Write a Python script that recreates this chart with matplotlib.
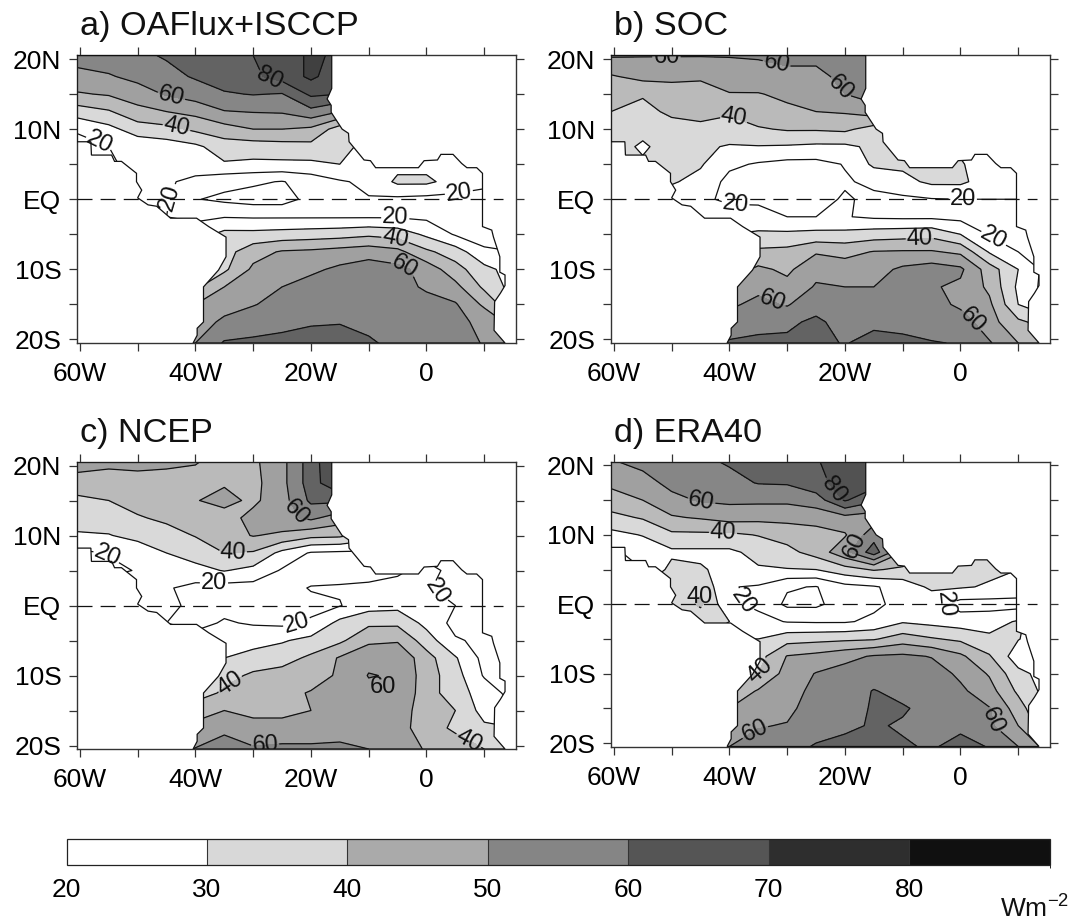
import numpy as np
import matplotlib
matplotlib.use("Agg")
import matplotlib.pyplot as plt
from matplotlib.patches import Polygon
from matplotlib.colors import ListedColormap, BoundaryNorm
from matplotlib.cm import ScalarMappable

plt.rcParams['font.family'] = ['Liberation Sans', 'DejaVu Sans']
plt.rcParams['mathtext.default'] = 'regular'

lons = [-60.5, -55, -50, -45, -40, -35, -30, -25, -20, -15, -10, -5, 0, 5, 10, 15.5]
lats = [20.5, 17.5, 15, 12.5, 10, 7.5, 5, 2.5, 0, -2.5, -5, -7.5, -10, -12.5, -15, -17.5, -20.5]

oaflux = [
 [64,66,68,71,73,76,80,84,92,88,85,85,85,85,85,85],
 [57,59,63,67,71,75,78,84,92,84,84,84,84,84,84,84],
 [49,51,55,61,65,69,70.5,69.5,82,80,80,80,80,80,80,80],
 [35,39,47,50,53,59.5,60.5,61,67,60,55,50,50,50,50,50],
 [21,27,35,37,42,46,50,50,48,35,30,30,30,30,30,30],
 [17,20,23,25,28,35,35,36,37,33,27,25,25,25,25,25],
 [17,19,22,23,24,29,28,28,28,30,27,27,27,24,22,20],
 [22,22,22,21,18,13,11.5,9.5,14,19,22,32,32,26,22,20],
 [22,22,22,21,10.5,8,6,6,13,17,19.5,18,17,17,17,17],
 [20,20,20,20,18,19.5,19,19,19,19,19,19,18,15,14,14],
 [25,25,25,25,25,33,33,34,35,36,38,36,28,19,15,15],
 [30,30,30,30,30,36,46,51,52,54,56,53,42,35,22,20],
 [35,35,35,35,33,38,52,55,58,62,65,63,56,44,33,25],
 [40,40,40,40,38,50,57,60,64,66,67,65,58,53,38,25],
 [45,45,45,45,50,56,59.5,63,65,66,67,66,65,61,48,30],
 [50,50,50,50,55,62,65,67,69,69.5,68,67,66,62,58,45],
 [55,55,55,55,60,71,72,73,74,74,71,68,66,63,59.5,52],
]

soc = [
 [61,60.5,60.5,60.5,60.5,61,62,62,64,70,70,70,70,70,70,70],
 [49,53,52,51,55,56,58,58,62,68,68,68,68,68,68,68],
 [44,41,46,47,49.5,49.5,52,54,60,65,65,65,65,65,65,65],
 [40,37,42,44,41,46,48,50,51,55,50,50,50,50,50,50],
 [31,32,36,37,37,39,41,41,42,36,30,30,30,30,30,30],
 [33,29,33,32,29,29.5,29,28,28,32,30,28,28,28,28,28],
 [31,31,33,31,22,19,17,17,20.5,32,32,32,31,24,22,20],
 [25,25,31,27,17,15,14,14,19,22,27,32,32,25,22,20],
 [25,25,25,22,18,19,17,17,21,18,18,19.5,20,20,20,20],
 [25,25,25,25,25,22,20,20,20.5,18.5,18,18,17,15,13,12],
 [30,30,30,30,30,32,32,33,33,35,36,37,30,19,13,12],
 [40,40,40,40,40,42,43,49,47,50.5,51,51,48,29,20,18],
 [45,45,45,45,45,52,48,57,55,56,62,65,62,45,30,15],
 [50,50,50,50,50,57,53,61,60,60,65,61,58,48,28,15],
 [55,55,55,55,58,63,59,68,66,63,68,64,58,52,30,20],
 [60,60,60,60,65,67,69,71,68,68,66,66,65,54,42,35],
 [65,65,65,65,71,72,71,72,69.5,73,73,70.5,69.5,61,50,42],
]

ncep = [
 [53,52,53,52,50.5,47,48,57,75,92,90,90,90,90,90,90],
 [47,46,46,46,47,49,47,57,75,90,90,90,90,90,90,90],
 [37,40,44,45,49.5,53,48,56,72,72,72,72,72,72,72,72],
 [37,35,39,42,46,46,53,57,62,55,50,50,50,50,50,50],
 [28,29.5,33,36,40.5,46,50.5,48,43,42,35,35,35,35,35,35],
 [18,20.5,24,30,34,40,39,27,19,18,18,18,18,18,18,18],
 [18,18,20.5,24,27,30.5,27,19,16,16,18,19,22,18,18,18],
 [24,24,24,21,17,16,16,17,20.5,21,21,22,20.5,18,18,18],
 [22,22,22,22,18,17,16,17,18,19.5,26,27,21,20,16,16],
 [20,20,20,20,17,21,19,18,21,33,38,38,27,17,15,15],
 [24,24,24,24,24,24,27,29,33,38,48,49,35,21,18,18],
 [30,30,30,30,30,30,33,36,42,51,57,58,44,31,17,17],
 [33,33,33,33,33,36,42,44,47,51,60.5,59,45,34,19,18],
 [35,35,35,35,34,42,47,48,50.5,54,57,58,45,34,26,15],
 [38,38,38,38,47,50,47,47,50,53,56,55,45,40,26,20],
 [48,48,48,48,52,58,54,54,54,56,56,54,45,38,32,30],
 [55,55,55,55,60.5,64,61,62,62,62,60,56,49,46,40,38],
]

era40 = [
 [59,63,66,68,71,76,76,79.5,83,83,83,83,83,83,83,83],
 [52,56,63,65,67,70.5,71,77,84,84,84,84,84,84,84,84],
 [46,50,57,61,62,62,62,65,81,72,72,72,72,72,72,72],
 [37,41,49,51,54,53,53,54,57,55,45,45,45,45,45,45],
 [27,30.5,38,38,38,40.5,44,46,49,66,40,40,40,40,40,40],
 [18,24,28,28,28,33,37,44,57,75,50,40,40,40,40,40],
 [18,20,33,31,27,29,29.5,30,36,41,38,35,33,32,30,28],
 [30,30,35,38,20.5,19,11,9.5,17,19,24,32,31,29,27,25],
 [30,30,32,42,22,18,8,8,15,18,23,23,16,16,16,16],
 [30,30,30,32,30,23,19.5,19,19,22,29,27,25,26,31,25],
 [30,30,30,30,30,30,36,37,38,39,45,41,38,32,30.5,22],
 [35,35,35,35,35,36,50.5,53,57,61,62,59.5,52,41,24,22],
 [40,40,40,40,40,40,54,60.5,64,65,66,65,58,49,33,25],
 [42,42,42,42,42,51,57,62,65,70.5,67,66,62,54,38,25],
 [48,48,48,48,50,55,58,64,66,71,71,67,66,60.5,45,25],
 [52,52,52,52,54,59.5,60.5,65,68,71,69,69,68,62,50,30],
 [55,55,55,55,60,63,66,71,73,74,71,69,73,69.5,60,45],
]

# ocean outline (lon, lat)
coast_lon = [-60.5,-16.4,-16.4,-17.2,-16.5,-16.5,-14.6,-13.5,-13.4,-10.8,-9.7,-8.8,-1.4,-0.4,1.9,2.5,4.6,6.1,7,8.7,9.7,9.7,11.3,11.6,12.7,12.7,13.6,13.6,12.8,11.8,11.7,13.6,-40.4,-39.7,-39.7,-38.6,-38.6,-36,-34.7,-34.7,-37.7,-39.8,-44.3,-46.7,-48.2,-50,-49.3,-50.2,-50.2,-52.8,-54,-54.5,-58,-58.1,-60.5]
coast_lat = [20.5,20.5,15.8,14.3,13.4,12.4,10,9.4,8.2,5.6,5.5,4.5,4.5,5.5,5.6,6.4,6.4,5.1,4.5,4.5,3.7,-3.9,-4.4,-5.4,-8.2,-10.4,-10.8,-12.3,-13.4,-14.6,-18.7,-20.5,-20.5,-19.4,-18.4,-17.5,-12.5,-10.1,-8.2,-5.4,-3.9,-2.7,-2.7,-1,-0.8,0.2,1.3,2.5,3.7,5.4,5.4,6.3,6.3,8.2,8.2]

labels_a = [(-27.2,17.3),(-44.3,14.2),(-43.2,10.5),(-56.6,8.2),(-46.3,0.9),(5.5,1.5),(-5.4,-2.9),(-5.4,-5.8),(-3.8,-9.6)]
labels_b = [(-50.9,20),(-31.9,19.1),(-20.8,15.9),(-39,12.2),(0.4,0),(-39,-1.6),(-7,-6.5),(5.4,-6.1),(-33.1,-15.6),(2.5,-16.8)]
labels_c = [(-55.1,7.5),(-22.6,13.2),(-33.5,7.2),(-36.8,2.6),(-22.3,-3.1),(-0.4,-0.4),(-33.8,-11.5),(-28,-19.3),(7.6,-18.9)]
labels_d = [(-44.9,14.5),(-22.1,16.4),(-41.1,10.6),(-18,8.2),(-46.4,1.8),(-39.6,-0.1),(-2.9,-0.4),(-34.3,-9.7),(-35.5,-18.4),(6,-16.7)]
free_labels = [[], [], [(-7.5, -11.6, '60')], []]

titles = ['a) OAFlux+ISCCP', 'b) SOC', 'c) NCEP', 'd) ERA40']
fields = [oaflux, soc, ncep, era40]
label_pos = [labels_a, labels_b, labels_c, labels_d]

fill_levels = [0, 10, 20, 30, 40, 50, 60, 70, 80, 90, 200]
fill_colors = ['white', 'white', 'white', '#D9D9D9', '#BABABA', '#A0A0A0', '#868686', '#636363', '#525252', '#404040']
plain_levels = [10, 30, 50, 70, 90]
labelled_levels = [20, 40, 60, 80]
cbar_bounds = [20, 30, 40, 50, 60, 70, 80, 90]
cbar_colors = ['white', '#D8D8D8', '#AAAAAA', '#858585', '#555555', '#2E2E2E', '#101010']

xtick_vals = [-60, -50, -40, -30, -20, -10, 0, 10]
xtick_text = ['60W', '', '40W', '', '20W', '', '0', '']
ytick_vals = [20, 15, 10, 5, 0, -5, -10, -15, -20]
ytick_text = ['20N', '', '10N', '', 'EQ', '', '10S', '', '20S']

W, H = 1071, 922
fig = plt.figure(figsize=(W / 100, H / 100), dpi=100)
boxes = [(77, 55.5, 516, 343), (611, 55.5, 1050, 343), (77, 462, 516, 749), (611, 462, 1050, 746.5)]

for box, title, field, lpos, free in zip(boxes, titles, fields, label_pos, free_labels):
    l, t, r, b = box
    ax = fig.add_axes([l / W, 1 - b / H, (r - l) / W, (b - t) / H])
    ax.set_xlim(-60.5, 15.5)
    ax.set_ylim(-20.5, 20.5)
    ocean = Polygon(np.column_stack([coast_lon, coast_lat]), closed=True, transform=ax.transData,
                    facecolor='none', edgecolor='#111111', linewidth=0.9, zorder=3)
    ax.add_patch(ocean)
    Z = np.array(field, dtype=float)
    cf = ax.contourf(lons, lats, Z, levels=fill_levels, colors=fill_colors)
    cf.set_clip_path(ocean)
    cp = ax.contour(lons, lats, Z, levels=[v for v in plain_levels if Z.min() < v < Z.max()],
                    colors='#111111', linewidths=0.9)
    cp.set_clip_path(ocean)
    cs = ax.contour(lons, lats, Z, levels=[v for v in labelled_levels if Z.min() < v < Z.max()],
                    colors='#111111', linewidths=0.9)
    cs.set_clip_path(ocean)
    ax.clabel(cs, manual=lpos, inline=True, inline_spacing=1, fontsize=17, fmt='%d', colors='#111111')
    for x0, y0, s in free:
        ax.text(x0, y0, s, fontsize=17, ha='center', va='center', color='#111111', zorder=5)
    ax.axhline(0, color='#111111', lw=0.9, dashes=(12, 6.5), zorder=4, xmin=0.0, xmax=0.97)
    ax.set_xticks(xtick_vals, xtick_text)
    ax.set_yticks(ytick_vals, ytick_text)
    ax.tick_params(axis='both', direction='out', length=5.8, width=0.9, color='#333333',
                   top=True, right=True, labelsize=19)
    ax.tick_params(axis='x', pad=8)
    ax.tick_params(axis='y', pad=5.5)
    for s in ax.spines.values():
        s.set_linewidth(1.0)
        s.set_color('#333333')
    fig.text((l + 3) / W, 1 - (t - 20) / H, title, fontsize=24.7, ha='left', va='baseline', color='#111111')

cax = fig.add_axes([66.5 / W, 1 - 865 / H, (1049.5 - 66.5) / W, 26.5 / H])
cmap = ListedColormap(cbar_colors)
norm = BoundaryNorm(cbar_bounds, cmap.N)
cb = fig.colorbar(ScalarMappable(norm=norm, cmap=cmap), cax=cax, orientation='horizontal',
                  ticks=cbar_bounds[:-1], spacing='proportional', drawedges=True)
cb.dividers.set_color('#333333')
cb.dividers.set_linewidth(0.8)
cb.outline.set_edgecolor('#222222')
cb.outline.set_linewidth(0.9)
cb.ax.tick_params(length=0, labelsize=19, pad=9)
fig.text(1069 / W, 1 - 918 / H, 'Wm$^{-2}$', fontsize=19, ha='right', va='baseline', color='#111111')

fig.savefig('out.png', dpi=100)
